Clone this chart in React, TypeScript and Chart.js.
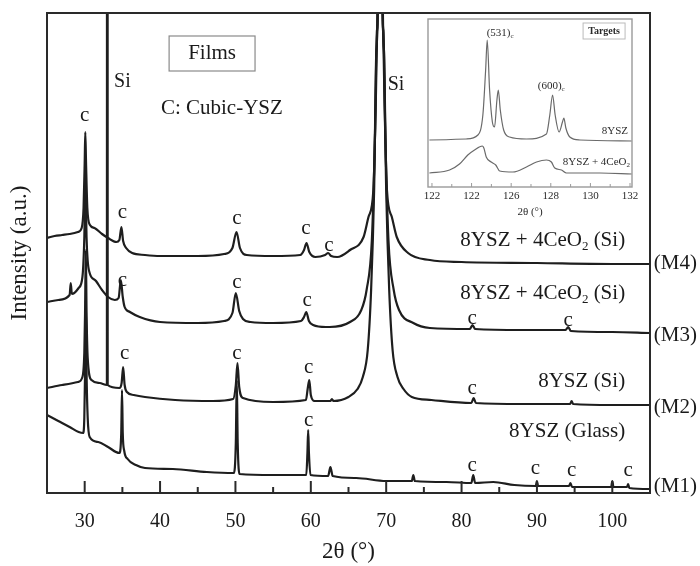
import React, { useEffect, useRef } from "react";
import { Chart, registerables } from "chart.js";

Chart.register(...registerables);

const SERIF = "'Liberation Serif', 'DejaVu Serif', serif";
type Pt = [number, number];

// ---- main pattern data: [2θ (°), intensity (a.u.)] ----
const m4Points: Pt[] = [
  [25, 255], [26, 257], [27, 258], [28, 259], [29.1, 261], [29.6, 265], [29.85, 285], [30.0, 330], [30.08, 361],
  [30.18, 330], [30.35, 285], [30.7, 268], [31.3, 265], [32.3, 259], [33.1, 255], [34.2, 251], [34.6, 253],
  [34.87, 266], [35.1, 252], [35.5, 245], [36.3, 240], [38, 238], [40, 237], [45, 237], [48.5, 239], [49.6, 245],
  [50.14, 261], [50.6, 245], [51.5, 238], [55, 237], [58.6, 238], [59.1, 243], [59.43, 250], [59.8, 241],
  [60.6, 236], [61.9, 238], [62.3, 240], [62.7, 237], [63.5, 236], [65.2, 243], [67.0, 256], [67.65, 276],
  [68.3, 303], [68.6, 383], [68.82, 463], [68.9, 493], [69.2, 3000], [69.5, 493], [69.58, 463], [69.8, 383],
  [70.1, 303], [70.75, 276], [71.4, 256], [72.9, 240], [75.8, 233], [80, 231], [90, 230], [100, 229], [105, 229],
];
const m3Points: Pt[] = [
  [25, 191], [26.5, 193], [28.0, 198], [28.15, 210], [28.3, 199], [29.2, 205], [29.7, 216], [29.95, 255],
  [30.1, 313], [30.25, 255], [30.4, 232], [30.66, 220], [31.5, 212], [32.3, 203], [33.1, 196], [34.0, 193],
  [34.5, 195], [34.8, 213], [35.05, 196], [35.3, 186], [36.0, 181], [37.3, 176], [40, 171], [45, 170],
  [48.5, 172], [49.6, 180], [50.05, 200], [50.5, 182], [51, 174], [52, 171], [55, 170], [58.7, 172],
  [59.1, 176], [59.4, 181], [59.75, 172], [60.3, 168], [62, 166], [62.5, 166], [65.2, 171], [66.7, 183],
  [67.4, 203], [68.1, 253], [68.5, 353], [68.78, 463], [68.9, 493], [69.2, 3000], [69.5, 493], [69.62, 463],
  [69.9, 353], [70.3, 253], [71.0, 203], [71.7, 183], [73.6, 170], [75.8, 165], [81.1, 164], [81.45, 168],
  [81.8, 164], [88, 163], [93.8, 163], [94.15, 166], [94.5, 162], [100, 161], [105, 160],
];
const m2Points: Pt[] = [
  [25, 105], [27, 108], [29.1, 111], [29.7, 116], [29.95, 140], [30.05, 180], [30.15, 243], [30.25, 180],
  [30.4, 135], [30.9, 113], [32, 110], [32.95, 108], [33.0, 3000], [33.05, 108], [34.6, 105], [34.9, 110],
  [35.1, 126], [35.3, 108], [35.6, 101], [36.5, 98], [38, 96], [42, 93], [47, 92], [49.7, 94], [50.05, 108],
  [50.27, 130], [50.5, 106], [51, 95], [55, 91], [59.35, 93], [59.6, 105], [59.8, 113], [60.0, 98],
  [60.5, 92], [62.6, 92], [62.8, 94], [63.0, 92], [65.0, 96], [66.2, 104], [66.9, 116], [67.55, 143],
  [68.0, 203], [68.4, 303], [68.7, 443], [68.85, 493], [69.2, 3000], [69.55, 493], [69.7, 443], [70.0, 303],
  [70.4, 203], [70.85, 143], [71.5, 116], [72.3, 104], [73.4, 96], [76, 93], [81.3, 90], [81.6, 95],
  [81.9, 90], [88, 89], [94.4, 89], [94.6, 92], [94.8, 89], [100, 88], [105, 88],
];
const m1Points: Pt[] = [
  [25, 78], [26.5, 72], [28, 66], [29.2, 61], [29.8, 60], [29.95, 75], [30.05, 120], [30.15, 193],
  [30.25, 120], [30.4, 75], [30.66, 56], [31.8, 51], [33.1, 46], [34.6, 40], [34.85, 60], [34.95, 103],
  [35.05, 60], [35.25, 42], [35.7, 34], [36.8, 28], [38, 25], [41.7, 24], [46.2, 21], [49.8, 20],
  [50.05, 50], [50.18, 113], [50.3, 50], [50.55, 19], [55, 18], [59.4, 18], [59.55, 40], [59.65, 63],
  [59.75, 40], [59.95, 18], [62.3, 17], [62.6, 26], [62.9, 17], [66, 15], [70, 12], [73.4, 12], [73.6, 18],
  [73.8, 12], [78, 11], [81.3, 10], [81.55, 18], [81.8, 10], [84.2, 11], [87, 8], [89.85, 7], [90.0, 12],
  [90.15, 7], [94.25, 7], [94.45, 10], [94.65, 6], [99.85, 6], [100.0, 12], [100.15, 6], [101.95, 6],
  [102.1, 9], [102.25, 5], [105, 4],
];

const seriesPoints: Pt[][] = [m4Points, m3Points, m2Points, m1Points];
const seriesNames = ["8YSZ + 4CeO_2 (Si)", "8YSZ + 4CeO_2 (Si)", "8YSZ (Si)", "8YSZ (Glass)"];
const seriesNameAt: Pt[] = [[101.7, 253], [101.7, 200], [101.7, 112], [101.7, 62]];
const seriesTags = ["(M4)", "(M3)", "(M2)", "(M1)"];
const seriesTagAt: Pt[] = [[105.5, 230], [105.5, 158], [105.5, 86], [105.5, 7]];

const cubicMarks: Pt[] = [
  [30.0, 378], [35.0, 281], [50.2, 275], [59.35, 265], [62.4, 248],
  [35.0, 213], [50.2, 211], [59.5, 193], [81.4, 175], [94.15, 173],
  [35.3, 140], [50.2, 140], [59.7, 126], [81.4, 105],
  [59.7, 73], [81.4, 28], [89.8, 25], [94.6, 23], [102.1, 23],
];
const siMarks: Pt[] = [[35.0, 411], [71.3, 408]];
const filmsBox = { x0: 41.2, x1: 52.6, y0: 422, y1: 457 };
const filmsTextAt: Pt = [46.9, 440];
const cubicNoteAt: Pt = [48.2, 385];

const xMin = 25;
const xMax = 105;
const yMax = 480;

// ---- inset data ----
const insetYszPoints: Pt[] = [
  [121.87, 47], [123.73, 48], [124.32, 52], [124.57, 72], [124.71, 117], [124.79, 147], [124.91, 97],
  [125.05, 65], [125.16, 60], [125.28, 87], [125.35, 97], [125.45, 77], [125.62, 57], [125.92, 50],
  [126.77, 48], [127.78, 53], [127.95, 72], [128.09, 92], [128.22, 72], [128.42, 55], [128.59, 65],
  [128.66, 69], [128.76, 59], [128.96, 50], [129.47, 47], [132.09, 46],
];
const insetCeoPoints: Pt[] = [
  [121.87, 14], [122.89, 17], [123.39, 23], [123.81, 32], [124.15, 37], [124.54, 41], [124.62, 39],
  [124.74, 30], [124.99, 25], [125.22, 22], [125.42, 16], [126.09, 15], [126.77, 20], [127.28, 25],
  [127.78, 27], [128.03, 25], [128.2, 19], [128.54, 17], [128.79, 14], [130.48, 14], [132.09, 13],
];
const insetTickValues = [122, 124, 126, 128, 130, 132];
const insetTickLabels = ["122", "122", "126", "128", "130", "132"];
const insetMin = 121.8;
const insetMax = 132.1;
const insetYMax = 168;

function drawRich(ctx: CanvasRenderingContext2D, text: string, x: number, y: number, size: number,
  align: "left" | "right" | "center", weight = "normal") {
  const parts: { t: string; sub: boolean }[] = [];
  let buf = "";
  for (let i = 0; i < text.length; i++) {
    if (text[i] === "_" && i + 1 < text.length) {
      if (buf) parts.push({ t: buf, sub: false });
      buf = "";
      parts.push({ t: text[i + 1], sub: true });
      i++;
    } else buf += text[i];
  }
  if (buf) parts.push({ t: buf, sub: false });
  const fN = `${weight} ${size}px ${SERIF}`;
  const fS = `${weight} ${Math.round(size * 0.62)}px ${SERIF}`;
  const widths = parts.map((p) => { ctx.font = p.sub ? fS : fN; return ctx.measureText(p.t).width; });
  const total = widths.reduce((a, b) => a + b, 0);
  let cx = align === "left" ? x : align === "right" ? x - total : x - total / 2;
  ctx.textAlign = "left";
  ctx.textBaseline = "middle";
  parts.forEach((p, i) => {
    ctx.font = p.sub ? fS : fN;
    ctx.fillText(p.t, cx, p.sub ? y + size * 0.32 : y);
    cx += widths[i];
  });
}

const mainDecor = {
  id: "mainDecor",
  afterDatasetsDraw(chart: any) {
    const { ctx, chartArea: a, scales } = chart;
    const x = scales.x, y = scales.y;
    const X = (v: number) => x.getPixelForValue(v);
    const Y = (v: number) => y.getPixelForValue(v);
    ctx.save();
    ctx.strokeStyle = "#2a2a2a";
    ctx.lineWidth = 2;
    ctx.strokeRect(a.left, a.top, a.right - a.left, a.bottom - a.top);
    x.ticks.forEach((t: any) => {
      if (t.value <= xMin || t.value >= xMax) return;
      const px = X(t.value);
      const len = Math.abs(t.value % 10) < 1e-6 ? 12 : 6;
      ctx.beginPath();
      ctx.moveTo(px, a.bottom);
      ctx.lineTo(px, a.bottom - len);
      ctx.stroke();
    });
    ctx.fillStyle = "#1a1a1a";
    cubicMarks.forEach(([cx, cy]) => drawRich(ctx, "c", X(cx), Y(cy), 21, "center"));
    siMarks.forEach(([sx, sy]) => drawRich(ctx, "Si", X(sx), Y(sy), 20, "center"));
    seriesNames.forEach((n, i) => drawRich(ctx, n, X(seriesNameAt[i][0]), Y(seriesNameAt[i][1]), 21, "right"));
    seriesTags.forEach((n, i) => drawRich(ctx, n, X(seriesTagAt[i][0]), Y(seriesTagAt[i][1]), 21, "left"));
    ctx.strokeStyle = "#8a8a8a";
    ctx.lineWidth = 1.2;
    const bx0 = X(filmsBox.x0), bx1 = X(filmsBox.x1), by0 = Y(filmsBox.y1), by1 = Y(filmsBox.y0);
    ctx.strokeRect(bx0, by0, bx1 - bx0, by1 - by0);
    drawRich(ctx, "Films", X(filmsTextAt[0]), Y(filmsTextAt[1]), 21, "center");
    drawRich(ctx, "C: Cubic-YSZ", X(cubicNoteAt[0]), Y(cubicNoteAt[1]), 21, "center");
    ctx.restore();
  },
};

const insetDecor = {
  id: "insetDecor",
  afterDatasetsDraw(chart: any) {
    const { ctx, chartArea: a, scales } = chart;
    const x = scales.x, y = scales.y;
    const X = (v: number) => x.getPixelForValue(v);
    const Y = (v: number) => y.getPixelForValue(v);
    ctx.save();
    ctx.strokeStyle = "#9a9a9a";
    ctx.lineWidth = 1.4;
    ctx.strokeRect(a.left, a.top, a.right - a.left, a.bottom - a.top);
    ctx.lineWidth = 1;
    for (let v = Math.ceil(insetMin); v <= Math.floor(insetMax); v++) {
      const px = X(v);
      const len = v % 2 === 0 ? 4 : 3;
      ctx.beginPath();
      ctx.moveTo(px, a.bottom);
      ctx.lineTo(px, a.bottom - len);
      ctx.stroke();
    }
    ctx.fillStyle = "#2a2a2a";
    drawRich(ctx, "(531)_c", X(125.44), Y(154), 11, "center");
    drawRich(ctx, "(600)_c", X(128.02), Y(101), 11, "center");
    drawRich(ctx, "8YSZ", X(131.9), Y(56), 11, "right");
    drawRich(ctx, "8YSZ + 4CeO_2", X(132.0), Y(25), 11, "right");
    ctx.strokeStyle = "#bbbbbb";
    ctx.lineWidth = 1;
    const tx0 = X(129.63), tx1 = X(131.75), ty0 = Y(164), ty1 = Y(148);
    ctx.strokeRect(tx0, ty0, tx1 - tx0, ty1 - ty0);
    drawRich(ctx, "Targets", X(130.69), Y(156), 10, "center", "bold");
    ctx.restore();
  },
};

export default function App() {
  const mainRef = useRef<HTMLCanvasElement | null>(null);
  const insetRef = useRef<HTMLCanvasElement | null>(null);

  useEffect(() => {
    if (!mainRef.current || !insetRef.current) return;
    const main = new Chart(mainRef.current, {
      type: "line",
      data: {
        datasets: seriesPoints.map((pts, i) => ({
          label: seriesTags[i],
          data: pts.map(([px, py]) => ({ x: px, y: py })),
          borderColor: "#1e1e1e",
          borderWidth: 2.2,
          pointRadius: 0,
          cubicInterpolationMode: "monotone" as const,
          fill: false,
        })),
      },
      options: {
        animation: false,
        responsive: false,
        events: [],
        layout: { padding: { top: 13, right: 50, left: 0, bottom: 0 } },
        plugins: { legend: { display: false }, tooltip: { enabled: false } },
        scales: {
          x: {
            type: "linear",
            min: xMin,
            max: xMax,
            afterFit: (s: any) => { s.height = 73; },
            grid: { display: false, drawTicks: false },
            border: { display: false },
            ticks: {
              stepSize: 5,
              autoSkip: false,
              maxRotation: 0,
              padding: 17,
              color: "#1a1a1a",
              font: { family: SERIF, size: 20 },
              callback: (v: any) => (Math.abs(Number(v) % 10) < 1e-6 ? String(v) : ""),
            },
            title: {
              display: true,
              text: "2θ (°)",
              color: "#1a1a1a",
              font: { family: SERIF, size: 23 },
              padding: { top: 0, bottom: 0 },
            },
          },
          y: {
            min: 0,
            max: yMax,
            afterFit: (s: any) => { s.width = 47; },
            grid: { display: false, drawTicks: false },
            border: { display: false },
            ticks: { display: false },
            title: {
              display: true,
              text: "Intensity (a.u.)",
              color: "#1a1a1a",
              font: { family: SERIF, size: 23 },
              padding: { top: 6, bottom: 0 },
            },
          },
        },
      },
      plugins: [mainDecor],
    } as any);

    const inset = new Chart(insetRef.current, {
      type: "line",
      data: {
        datasets: [insetYszPoints, insetCeoPoints].map((pts, i) => ({
          label: i === 0 ? "8YSZ" : "8YSZ + 4CeO2",
          data: pts.map(([px, py]) => ({ x: px, y: py })),
          borderColor: "#6a6a6a",
          borderWidth: 1.2,
          pointRadius: 0,
          cubicInterpolationMode: "monotone" as const,
          fill: false,
        })),
      },
      options: {
        animation: false,
        responsive: false,
        events: [],
        layout: { padding: { top: 9, right: 18, left: 13, bottom: 0 } },
        plugins: { legend: { display: false }, tooltip: { enabled: false } },
        scales: {
          x: {
            type: "linear",
            min: insetMin,
            max: insetMax,
            afterFit: (s: any) => { s.height = 38; },
            afterBuildTicks: (axis: any) => { axis.ticks = insetTickValues.map((value) => ({ value })); },
            grid: { display: false, drawTicks: false },
            border: { display: false },
            ticks: {
              autoSkip: false,
              maxRotation: 0,
              padding: 3,
              color: "#2a2a2a",
              font: { family: SERIF, size: 11 },
              callback: (_v: any, i: number) => insetTickLabels[i],
            },
            title: {
              display: true,
              text: "2θ (°)",
              color: "#2a2a2a",
              font: { family: SERIF, size: 11 },
              padding: { top: 0, bottom: 6 },
            },
          },
          y: { display: false, min: 0, max: insetYMax },
        },
      },
      plugins: [insetDecor],
    } as any);

    return () => {
      main.destroy();
      inset.destroy();
    };
  }, []);

  return (
    <div style={{ position: "absolute", left: 0, top: 0, width: 700, height: 566, background: "#fff" }}>
      <canvas ref={mainRef} width={700} height={566} style={{ position: "absolute", left: 0, top: 0 }} />
      <canvas ref={insetRef} width={235} height={215} style={{ position: "absolute", left: 415, top: 10 }} />
    </div>
  );
}
